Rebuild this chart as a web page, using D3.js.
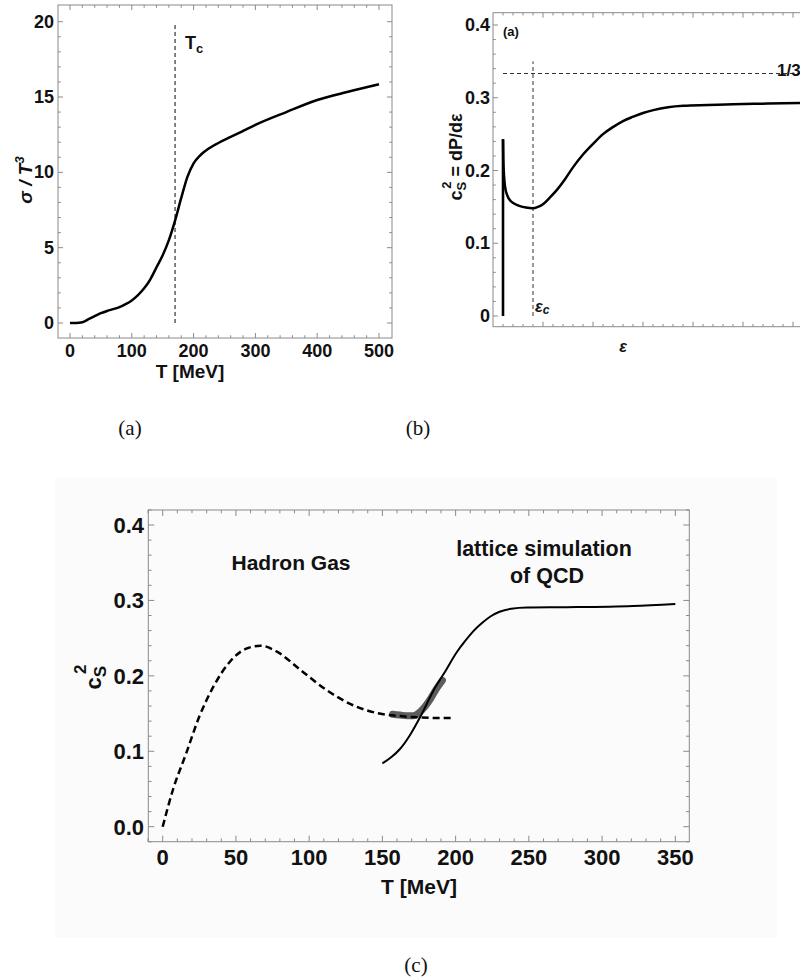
<!DOCTYPE html>
<html>
<head>
<meta charset="utf-8">
<script src="https://cdn.jsdelivr.net/npm/d3@7"></script>
<style>
  body { margin: 0; background: #fff; }
  text { font-family: "Liberation Sans", Arial, sans-serif; font-weight: bold; fill: #111; }
  .cap { font-family: "Liberation Serif", "DejaVu Serif", serif; font-weight: normal; }
</style>
</head>
<body>
<div id="chart"></div>
<script>
// Panel (a): entropy density over T^3
const aT     = [0, 10, 20, 30, 40, 50, 60, 70, 80, 90, 100, 110, 120, 130, 140, 150, 160, 170, 180, 190, 200, 210, 220, 240, 260, 280, 300, 350, 400, 450, 500];
const aSigma = [0, 0, 0.05, 0.25, 0.45, 0.65, 0.8, 0.92, 1.05, 1.25, 1.5, 1.85, 2.3, 2.9, 3.7, 4.5, 5.5, 6.8, 8.3, 9.7, 10.6, 11.1, 11.45, 11.95, 12.35, 12.75, 13.15, 14.0, 14.8, 15.35, 15.85];
const aTc = 170;
const aXTicks = [0, 100, 200, 300, 400, 500];
const aYTicks = [0, 5, 10, 15, 20];

// Panel (b): speed of sound squared vs energy density (arbitrary units)
const bEps = [1.0, 1.0, 1.03, 1.2, 1.45, 1.7, 2.2, 2.7, 3.3, 3.97, 4.5, 5.03, 5.7, 6.37, 7.2, 8.03, 9.0, 10.03, 11.0, 12.03, 13.0, 14.03, 15.0, 16.03, 17.5, 19.03, 21.5, 24.03, 27.5, 31.0, 34.0];
const bCs2 = [0, 0.243, 0.215, 0.178, 0.165, 0.159, 0.154, 0.151, 0.149, 0.148, 0.150, 0.154, 0.163, 0.173, 0.188, 0.205, 0.222, 0.237, 0.250, 0.260, 0.268, 0.274, 0.279, 0.283, 0.287, 0.289, 0.290, 0.291, 0.292, 0.293, 0.294];
const bEpsC = 4.0;
const bThird = 1 / 3;
const bYTicks = [0, 0.1, 0.2, 0.3, 0.4];
const bYLabels = ["0", "0.1", "0.2", "0.3", "0.4"];

// Panel (c): hadron gas vs lattice QCD
const cHadT   = [0, 7, 16, 25, 35, 46, 57, 67, 78, 94, 112, 130, 148, 160, 175, 190, 198];
const cHadCs2 = [0, 0.049, 0.097, 0.146, 0.187, 0.219, 0.236, 0.240, 0.232, 0.208, 0.181, 0.161, 0.150, 0.147, 0.145, 0.144, 0.144];
const cLatT   = [150, 156, 162, 169, 176, 185, 192, 201, 206, 212, 218, 224, 230, 238, 249, 276, 321, 350];
const cLatCs2 = [0.084, 0.092, 0.103, 0.122, 0.146, 0.181, 0.203, 0.232, 0.245, 0.259, 0.270, 0.279, 0.285, 0.289, 0.2905, 0.291, 0.2927, 0.2954];
const cBandT   = [157, 162, 167, 171, 175, 179, 183, 187, 191];
const cBandCs2 = [0.149, 0.148, 0.147, 0.147, 0.151, 0.159, 0.170, 0.183, 0.194];
const cXTicks = [0, 50, 100, 150, 200, 250, 300, 350];
const cYTicks = [0, 0.1, 0.2, 0.3, 0.4];

const W = 800, H = 979;
const svg = d3.select("#chart").append("svg").attr("width", W).attr("height", H);
svg.append("rect").attr("width", W).attr("height", H).attr("fill", "#fff");

const frameColor = "#8a8a8a";

// draws frame rectangle plus inward ticks on all four sides
function drawFrame(g, fr, x, y, xMajor, xMinor, yMajor, yMinor, len) {
    g.append("rect")
        .attr("x", fr.x0).attr("y", fr.y0)
        .attr("width", fr.x1 - fr.x0).attr("height", fr.y1 - fr.y0)
        .attr("fill", "none").attr("stroke", frameColor).attr("stroke-width", 1);
    const tk = g.append("g").attr("stroke", frameColor).attr("stroke-width", 1);
    [[xMajor, len], [xMinor, len * 0.55]].forEach(([vals, l]) => {
        vals.forEach(v => {
            const px = x(v);
            tk.append("line").attr("x1", px).attr("x2", px).attr("y1", fr.y1).attr("y2", fr.y1 - l);
            tk.append("line").attr("x1", px).attr("x2", px).attr("y1", fr.y0).attr("y2", fr.y0 + l);
        });
    });
    [[yMajor, len], [yMinor, len * 0.55]].forEach(([vals, l]) => {
        vals.forEach(v => {
            const py = y(v);
            tk.append("line").attr("y1", py).attr("y2", py).attr("x1", fr.x0).attr("x2", fr.x0 + l);
            tk.append("line").attr("y1", py).attr("y2", py).attr("x1", fr.x1).attr("x2", fr.x1 - l);
        });
    });
}

// ---------- panel (a) ----------
{
    const fr = { x0: 58, x1: 392, y0: 5, y1: 338 };
    const x = d3.scaleLinear().domain([0, 500]).range([70, 379]);
    const y = d3.scaleLinear().domain([0, 20]).range([323, 21.7]);
    const g = svg.append("g");
    drawFrame(g, fr, x, y, aXTicks, d3.range(20, 500, 20).filter(v => v % 100), aYTicks, d3.range(1, 20).filter(v => v % 5), 5);

    g.append("g").selectAll("text").data(aXTicks).join("text")
        .attr("x", d => x(d)).attr("y", 357).attr("text-anchor", "middle")
        .attr("font-size", 18).text(d => d);
    g.append("g").selectAll("text").data(aYTicks).join("text")
        .attr("x", 54).attr("y", d => y(d) + 6).attr("text-anchor", "end")
        .attr("font-size", 18).text(d => d);

    g.append("line")
        .attr("x1", x(aTc)).attr("x2", x(aTc)).attr("y1", y(0)).attr("y2", y(19.8))
        .attr("stroke", "#333").attr("stroke-width", 1.2).attr("stroke-dasharray", "4,3");

    const line = d3.line().x((d, i) => x(aT[i])).y(d => y(d)).curve(d3.curveMonotoneX);
    g.append("path").attr("d", line(aSigma))
        .attr("fill", "none").attr("stroke", "#000").attr("stroke-width", 2.5);

    const tc = g.append("text").attr("x", 185).attr("y", 49).attr("font-size", 18);
    tc.append("tspan").text("T");
    tc.append("tspan").attr("font-size", 13).attr("dy", 4).text("c");

    g.append("text").attr("x", 190).attr("y", 378).attr("text-anchor", "middle")
        .attr("font-size", 19).text("T [MeV]");

    const yl = g.append("text").attr("transform", "translate(32,180) rotate(-90)")
        .attr("text-anchor", "middle").attr("font-size", 19)
        .attr("font-style", "italic");
    yl.append("tspan").text("σ / T");
    yl.append("tspan").attr("font-size", 13).attr("dy", -8).text("3");

    svg.append("text").attr("class", "cap").attr("x", 130).attr("y", 435)
        .attr("text-anchor", "middle").attr("font-size", 21).text("(a)");
}

// ---------- panel (b) ----------
{
    const fr = { x0: 493, x1: 833, y0: 12.7, y1: 326.7 };
    const x = d3.scaleLinear().domain([0, 34]).range([493, 833]);
    const y = d3.scaleLinear().domain([0, 0.4]).range([316, 25]);
    const g = svg.append("g");
    drawFrame(g, fr, x, y, d3.range(5, 34, 5), d3.range(1, 34).filter(v => v % 5),
        bYTicks, d3.range(0.02, 0.42, 0.02).filter(v => Math.abs(v * 10 - Math.round(v * 10)) > 0.01), 5);

    g.append("g").selectAll("text").data(bYTicks).join("text")
        .attr("x", 490).attr("y", (d, i) => y(d) + 6).attr("text-anchor", "end")
        .attr("font-size", 18).text((d, i) => bYLabels[i]);

    g.append("line")
        .attr("x1", x(bEps[0])).attr("x2", x(34)).attr("y1", y(bThird)).attr("y2", y(bThird))
        .attr("stroke", "#333").attr("stroke-width", 1).attr("stroke-dasharray", "4,3");
    g.append("line")
        .attr("x1", x(bEpsC)).attr("x2", x(bEpsC)).attr("y1", y(0)).attr("y2", y(0.35))
        .attr("stroke", "#333").attr("stroke-width", 1).attr("stroke-dasharray", "4,3");

    // vertical rise, then the smooth part of the curve
    const pts = bEps.map((e, i) => [x(e), y(bCs2[i])]);
    g.append("path").attr("d", d3.line()(pts.slice(0, 2)))
        .attr("fill", "none").attr("stroke", "#000").attr("stroke-width", 2.6);
    g.append("path").attr("d", d3.line().curve(d3.curveMonotoneX)(pts.slice(1)))
        .attr("fill", "none").attr("stroke", "#000").attr("stroke-width", 2.5)
        .attr("stroke-linejoin", "round");

    g.append("text").attr("x", 503).attr("y", 36).attr("font-size", 13).text("(a)");
    g.append("text").attr("x", 777).attr("y", 76).attr("font-size", 17).text("1/3");

    const ec = g.append("text").attr("x", 535).attr("y", 312).attr("font-size", 16)
        .attr("font-style", "italic").attr("font-weight", "normal");
    ec.append("tspan").text("ε");
    ec.append("tspan").attr("font-size", 12).attr("dy", 2).text("c");

    g.append("text").attr("x", 623).attr("y", 352).attr("text-anchor", "middle")
        .attr("font-size", 16).attr("font-style", "italic").text("ε");

    const yl = g.append("text").attr("transform", "translate(462,157) rotate(-90)")
        .attr("text-anchor", "middle").attr("font-size", 18);
    yl.append("tspan").text("c");
    yl.append("tspan").attr("font-size", 13).attr("dy", 4).text("S");
    yl.append("tspan").attr("font-size", 13).attr("dx", -7).attr("dy", -15).text("2");
    yl.append("tspan").attr("dy", 11).text(" = dP/dε");

    svg.append("text").attr("class", "cap").attr("x", 418).attr("y", 435)
        .attr("text-anchor", "middle").attr("font-size", 21).text("(b)");
}

// ---------- panel (c) ----------
{
    svg.append("rect").attr("x", 55).attr("y", 477).attr("width", 722).attr("height", 461)
        .attr("fill", "#fbfbfb");
    const fr = { x0: 148.3, x1: 689.3, y0: 510, y1: 841.7 };
    const x = d3.scaleLinear().domain([0, 350]).range([162.7, 675.3]);
    const y = d3.scaleLinear().domain([0, 0.4]).range([826.7, 525]);
    const g = svg.append("g");
    drawFrame(g, fr, x, y, cXTicks, d3.range(-10, 360, 10).filter(v => v % 50),
        cYTicks, d3.range(-0.02, 0.43, 0.02).filter(v => Math.abs(v * 10 - Math.round(v * 10)) > 0.01), 6);

    g.append("g").selectAll("text").data(cXTicks).join("text")
        .attr("x", d => x(d)).attr("y", 865).attr("text-anchor", "middle")
        .attr("font-size", 22).text(d => d);
    g.append("g").selectAll("text").data(cYTicks).join("text")
        .attr("x", 144).attr("y", d => y(d) + 8).attr("text-anchor", "end")
        .attr("font-size", 22).text(d => d.toFixed(1));

    const line = d3.line().curve(d3.curveMonotoneX);
    g.append("path").attr("d", line(cBandT.map((t, i) => [x(t), y(cBandCs2[i])])))
        .attr("fill", "none").attr("stroke", "#4a4a4a").attr("stroke-width", 7)
        .attr("stroke-linecap", "round").attr("opacity", 0.9);
    g.append("path").attr("d", line(cHadT.map((t, i) => [x(t), y(cHadCs2[i])])))
        .attr("fill", "none").attr("stroke", "#000").attr("stroke-width", 2.5)
        .attr("stroke-dasharray", "7,4");
    g.append("path").attr("d", line(cLatT.map((t, i) => [x(t), y(cLatCs2[i])])))
        .attr("fill", "none").attr("stroke", "#000").attr("stroke-width", 2);

    g.append("text").attr("x", 291).attr("y", 570).attr("text-anchor", "middle")
        .attr("font-size", 21).text("Hadron Gas");
    g.append("text").attr("x", 544).attr("y", 556).attr("text-anchor", "middle")
        .attr("font-size", 21.5).text("lattice simulation");
    g.append("text").attr("x", 547).attr("y", 583).attr("text-anchor", "middle")
        .attr("font-size", 21.5).text("of QCD");

    g.append("text").attr("x", 419).attr("y", 894).attr("text-anchor", "middle")
        .attr("font-size", 21).text("T [MeV]");

    const yl = g.append("text").attr("transform", "translate(101,677) rotate(-90)")
        .attr("text-anchor", "middle").attr("font-size", 22);
    yl.append("tspan").text("c");
    yl.append("tspan").attr("font-size", 17).attr("dy", 5).text("S");
    yl.append("tspan").attr("font-size", 17).attr("dx", -8).attr("dy", -20).text("2");

    svg.append("text").attr("class", "cap").attr("x", 416).attr("y", 972)
        .attr("text-anchor", "middle").attr("font-size", 21).text("(c)");
}
</script>
</body>
</html>
